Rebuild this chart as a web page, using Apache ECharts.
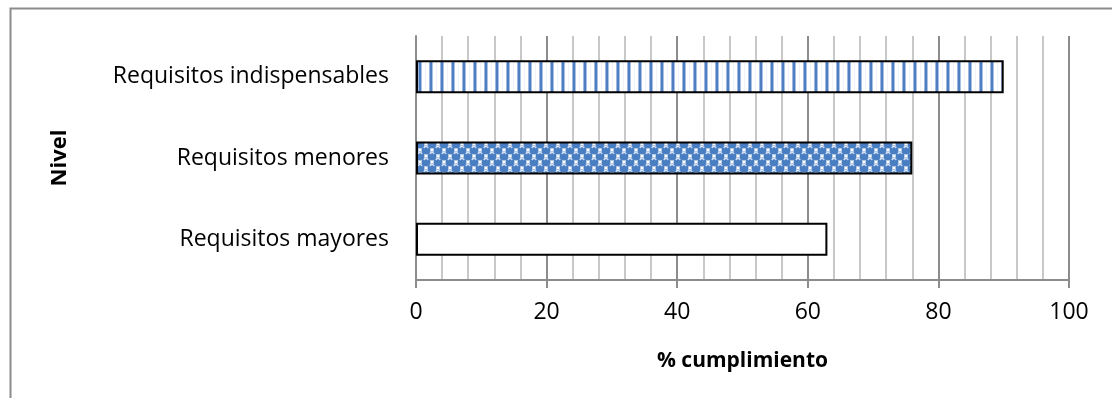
<!DOCTYPE html>
<html>
<head>
<meta charset="utf-8">
<script src="https://cdn.jsdelivr.net/npm/echarts@6/dist/echarts.min.js"></script>
<style>
html,body{margin:0;padding:0;background:#fff;}
#chart{width:1112px;height:398px;}
</style>
</head>
<body>
<div id="chart"></div>
<script>
const categories = ['Requisitos mayores', 'Requisitos menores', 'Requisitos indispensables'];
const values = [63, 76, 90];
const xTicks = [0, 20, 40, 60, 80, 100];

function stripePattern() {
  const c = document.createElement('canvas');
  c.width = 11; c.height = 4;
  const g = c.getContext('2d');
  g.fillStyle = '#ffffff'; g.fillRect(0, 0, 11, 4);
  g.fillStyle = '#9DB8E0'; g.fillRect(0, 0, 1, 4);
  g.fillStyle = '#4F7FC0'; g.fillRect(1, 0, 2, 4);
  g.fillStyle = '#A6C0E6'; g.fillRect(3, 0, 1, 4);
  g.fillStyle = '#EEF3FA'; g.fillRect(7, 0, 1, 4);
  return c;
}
function spherePattern() {
  const s = 12;
  const c = document.createElement('canvas');
  c.width = s; c.height = s;
  const g = c.getContext('2d');
  g.fillStyle = '#ffffff'; g.fillRect(0, 0, s, s);
  const centers = [[0,0],[s,0],[0,s],[s,s],[s/2,s/2]];
  centers.forEach(([x,y]) => {
    g.beginPath(); g.arc(x, y, 4.5, 0, Math.PI*2);
    g.fillStyle = '#4A7EC2'; g.fill();
    g.beginPath(); g.arc(x, y-1.2, 2.2, Math.PI*1.1, Math.PI*1.9);
    g.strokeStyle = '#DCE6F5'; g.lineWidth = 1.3; g.stroke();
  });
  return c;
}

const styles = [
  {color: '#ffffff', borderColor: '#000', borderWidth: 2},
  {color: {image: spherePattern(), repeat: 'repeat'}, borderColor: '#000', borderWidth: 2},
  {color: {image: stripePattern(), repeat: 'repeat'}, borderColor: '#000', borderWidth: 2}
];

const chart = echarts.init(document.getElementById('chart'), null, {renderer: 'canvas'});
const FONT = '"Open Sans", sans-serif';
chart.setOption({
  animation: false,
  backgroundColor: '#fff',
  graphic: [{
    type: 'rect', left: 8, top: 6,
    shape: {width: 1200, height: 500},
    style: {fill: 'none', stroke: '#8C8C8C', lineWidth: 2},
    silent: true, z: -1
  }],
  grid: {left: 416, right: 43, top: 36, bottom: 118, containLabel: false},
  xAxis: {
    type: 'value', min: xTicks[0], max: xTicks[xTicks.length-1], interval: 20,
    name: '% cumplimiento', nameLocation: 'middle', nameGap: 71,
    nameTextStyle: {fontFamily: FONT, fontSize: 21, fontWeight: 'bold', color: '#000'},
    axisLine: {show: true, lineStyle: {color: '#8C8C8C', width: 2}},
    axisTick: {show: true, length: 8, lineStyle: {color: '#8C8C8C', width: 2}},
    axisLabel: {fontFamily: FONT, fontSize: 23, color: '#000', margin: 21},
    splitLine: {show: true, lineStyle: {color: '#8C8C8C', width: 2}},
    minorTick: {show: false, splitNumber: 5},
    minorSplitLine: {show: true, lineStyle: {color: '#C8C8C8', width: 2}}
  },
  yAxis: {
    type: 'category', data: categories,
    name: 'Nivel', nameLocation: 'middle', nameGap: 345, nameRotate: 90,
    nameTextStyle: {fontFamily: FONT, fontSize: 22, fontWeight: 'bold', color: '#000'},
    axisLine: {show: true, lineStyle: {color: '#8C8C8C', width: 2}},
    axisTick: {show: false},
    axisLabel: {fontFamily: FONT, fontSize: 23, color: '#000', margin: 27},
    splitLine: {show: false}
  },
  series: [{
    type: 'bar',
    barWidth: 33,
    data: values.map((v, i) => ({value: v, itemStyle: styles[i]})),
    z: 3
  }]
});
</script>
</body>
</html>
